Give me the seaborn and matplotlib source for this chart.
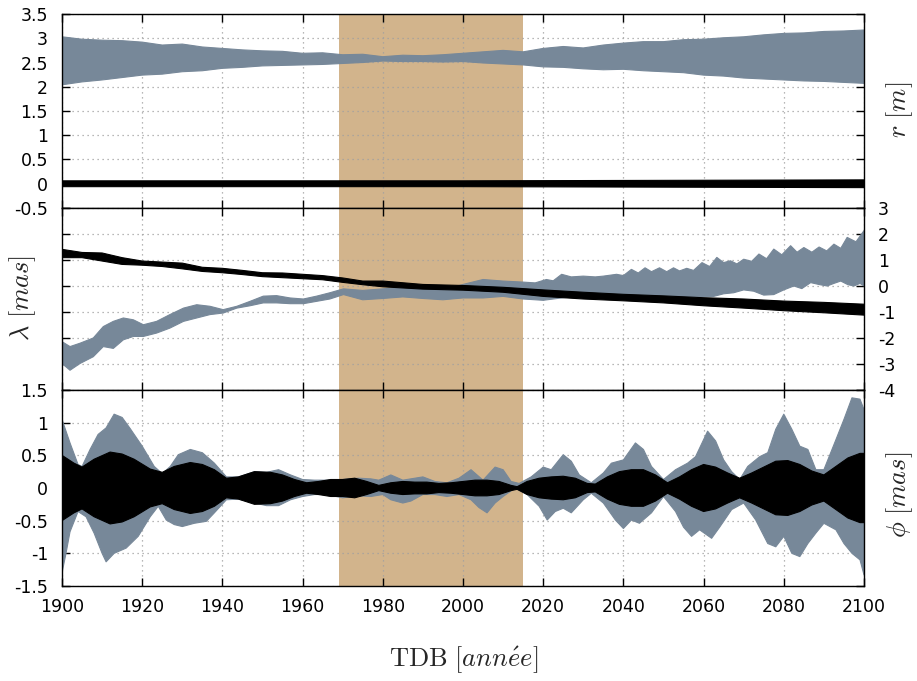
import numpy as np
import matplotlib
matplotlib.use("Agg")
import matplotlib.pyplot as plt
from matplotlib.ticker import FuncFormatter
import seaborn as sns

# shaded interval (years)
SPAN = (1969, 2015)

# --- r [m] ---------------------------------------------------------------
R_YEARS = [1900, 1905, 1910, 1915, 1920, 1925, 1930, 1935, 1940, 1945, 1950,
           1955, 1960, 1965, 1970, 1975, 1980, 1985, 1990, 1995, 2000, 2005,
           2010, 2015, 2020, 2025, 2030, 2035, 2040, 2045, 2050, 2055, 2060,
           2065, 2070, 2075, 2080, 2085, 2090, 2095, 2100]
R_GRAY_UP = [3.03, 2.98, 2.96, 2.95, 2.92, 2.86, 2.88, 2.82, 2.79, 2.76, 2.74,
             2.73, 2.69, 2.70, 2.66, 2.67, 2.62, 2.65, 2.64, 2.66, 2.69, 2.72,
             2.75, 2.72, 2.79, 2.83, 2.80, 2.86, 2.90, 2.93, 2.93, 2.97, 2.98,
             3.01, 3.03, 3.07, 3.10, 3.11, 3.14, 3.15, 3.17]
R_GRAY_LO = [2.04, 2.10, 2.14, 2.19, 2.24, 2.26, 2.31, 2.33, 2.38, 2.40, 2.43,
             2.44, 2.45, 2.46, 2.48, 2.50, 2.53, 2.52, 2.52, 2.51, 2.52, 2.49,
             2.47, 2.45, 2.41, 2.40, 2.37, 2.35, 2.36, 2.33, 2.31, 2.29, 2.24,
             2.22, 2.18, 2.16, 2.14, 2.12, 2.11, 2.09, 2.07]
R_BLACK_YEARS = [1900, 2000, 2100]
R_BLACK_UP = [0.06, 0.06, 0.08]
R_BLACK_LO = [-0.06, -0.06, -0.08]

# --- lambda [mas] --------------------------------------------------------
L_BLACK_YEARS = [1900, 1905, 1910, 1915, 1920, 1925, 1930, 1935, 1940, 1945,
                 1950, 1955, 1960, 1965, 1970, 1975, 1980, 1990, 2000, 2010,
                 2020, 2030, 2040, 2050, 2060, 2070, 2080, 2090, 2100]
L_BLACK_UP = [1.41, 1.29, 1.27, 1.09, 0.96, 0.92, 0.88, 0.72, 0.68, 0.60, 0.51,
              0.50, 0.45, 0.40, 0.31, 0.19, 0.19, 0.06, 0.02, -0.05, -0.15,
              -0.24, -0.32, -0.38, -0.45, -0.50, -0.58, -0.63, -0.70]
L_BLACK_LO = [1.09, 1.09, 0.96, 0.83, 0.80, 0.75, 0.66, 0.56, 0.51, 0.44, 0.36,
              0.32, 0.28, 0.24, 0.14, 0.05, -0.03, -0.12, -0.16, -0.24, -0.40,
              -0.50, -0.57, -0.65, -0.76, -0.85, -0.95, -1.03, -1.12]

L_GRAY_UP_YEARS = [1900, 1902, 1904.5, 1907.8, 1910.3, 1912.8, 1915.3, 1917.8,
                   1920.3, 1923.6, 1926.9, 1930.3, 1933.6, 1936.9, 1940.2,
                   1943.6, 1946.9, 1950.2, 1953.5, 1956.9, 1960.2, 1963.5,
                   1966.8, 1970.2, 1975, 1980, 1985, 1990, 1995, 2000, 2005,
                   2010, 2015, 2018, 2020.8, 2022.5, 2024.6, 2027, 2030, 2033,
                   2035, 2038.3, 2040, 2042, 2043.7, 2045.4, 2047, 2049,
                   2050.8, 2052.5, 2054, 2055.8, 2057.5, 2059.6, 2061.5,
                   2063.3, 2065, 2066.7, 2068.3, 2070, 2072, 2073.8, 2075.7,
                   2077.5, 2079.5, 2081.7, 2083.3, 2085, 2087, 2088.8, 2090.7,
                   2092.5, 2094.2, 2095.8, 2098, 2100]
L_GRAY_UP = [-2.14, -2.33, -2.20, -2.00, -1.56, -1.36, -1.23, -1.30, -1.49,
             -1.36, -1.10, -0.85, -0.72, -0.78, -0.91, -0.78, -0.59, -0.39,
             -0.37, -0.46, -0.50, -0.39, -0.26, -0.11, -0.17, -0.11, -0.05,
             -0.11, -0.15, 0.06, 0.25, 0.19, 0.15, 0.12, 0.25, 0.20, 0.45,
             0.35, 0.38, 0.35, 0.38, 0.45, 0.40, 0.64, 0.50, 0.70, 0.55, 0.70,
             0.55, 0.70, 0.58, 0.68, 0.60, 0.90, 0.75, 1.10, 0.90, 0.97, 0.85,
             1.03, 0.95, 1.23, 1.05, 1.42, 1.20, 1.55, 1.30, 1.48, 1.30, 1.50,
             1.35, 1.61, 1.45, 1.87, 1.70, 2.13]
L_GRAY_LO_YEARS = [1900, 1902, 1904.5, 1907.8, 1910.3, 1912.8, 1915.3, 1917.8,
                   1920.3, 1923.6, 1926.9, 1930.3, 1933.6, 1936.9, 1940.2,
                   1943.6, 1946.9, 1950.2, 1953.5, 1956.9, 1960.2, 1963.5,
                   1966.8, 1970.2, 1975, 1980, 1985, 1990, 1995, 2000, 2005,
                   2010, 2015, 2020, 2025, 2030, 2040, 2050, 2055, 2060,
                   2062.5, 2065, 2067.5, 2070, 2072.5, 2075, 2077.5, 2080,
                   2082.5, 2084.5, 2086.7, 2089, 2090.8, 2092.5, 2094.2, 2096,
                   2097.5, 2099, 2100]
L_GRAY_LO = [-2.98, -3.24, -2.98, -2.72, -2.33, -2.40, -2.07, -1.94, -1.94,
             -1.81, -1.62, -1.36, -1.23, -1.10, -1.04, -0.85, -0.76, -0.65,
             -0.65, -0.68, -0.68, -0.59, -0.50, -0.33, -0.53, -0.48, -0.42,
             -0.48, -0.53, -0.46, -0.46, -0.40, -0.50, -0.55, -0.45, -0.40,
             -0.45, -0.50, -0.45, -0.40, -0.40, -0.30, -0.26, -0.15, -0.20,
             -0.35, -0.33, -0.15, 0.00, -0.10, 0.13, 0.05, 0.00, 0.10, 0.19,
             0.05, 0.00, 0.10, 0.00]

# --- phi [mas] -----------------------------------------------------------
P_BLACK_YEARS = [1900, 1903, 1905, 1908, 1912, 1915, 1918, 1922, 1925, 1928,
                 1932, 1935, 1938, 1941, 1944, 1948, 1952, 1955, 1958, 1961,
                 1964, 1967, 1970, 1973, 1976, 1979, 1982, 1985, 1988, 1991,
                 1994, 1997, 2000, 2003, 2006, 2009, 2012, 2013.5, 2016, 2019,
                 2022, 2025, 2028, 2031, 2033, 2036, 2039, 2042, 2045, 2048,
                 2051, 2054, 2057, 2060, 2063, 2066, 2069, 2072, 2075, 2078,
                 2081, 2084, 2087, 2090, 2093, 2096, 2099, 2100]
P_BLACK_AMP = [0.50, 0.38, 0.32, 0.44, 0.55, 0.52, 0.44, 0.29, 0.24, 0.33,
               0.39, 0.36, 0.28, 0.15, 0.17, 0.25, 0.24, 0.20, 0.13, 0.08,
               0.10, 0.13, 0.13, 0.15, 0.10, 0.04, 0.08, 0.10, 0.09, 0.09,
               0.07, 0.08, 0.10, 0.12, 0.12, 0.10, 0.04, 0.02, 0.10, 0.15,
               0.17, 0.18, 0.15, 0.07, 0.06, 0.17, 0.25, 0.28, 0.28, 0.20,
               0.08, 0.17, 0.28, 0.36, 0.32, 0.23, 0.15, 0.23, 0.32, 0.41,
               0.42, 0.36, 0.26, 0.20, 0.33, 0.46, 0.53, 0.53]

P_GRAY_UP_YEARS = [1900, 1902, 1904, 1905, 1907, 1909, 1911, 1913, 1915, 1917,
                   1920, 1923, 1925, 1927, 1929, 1932, 1935, 1938, 1941, 1944,
                   1948, 1951, 1954, 1957, 1960, 1963, 1966, 1970, 1974, 1977,
                   1979, 1982, 1985, 1988, 1990, 1993, 1996, 1999, 2002, 2005,
                   2008, 2010, 2012, 2014, 2017, 2020, 2022, 2025, 2027, 2029,
                   2032, 2035, 2037, 2040, 2043, 2045, 2047, 2050, 2053, 2056,
                   2058, 2061, 2063, 2065, 2067, 2069, 2071, 2074, 2076, 2078,
                   2080, 2082, 2084, 2086, 2088, 2090, 2093, 2095, 2097, 2099,
                   2100]
P_GRAY_UP = [1.05, 0.69, 0.36, 0.33, 0.59, 0.82, 0.92, 1.13, 1.08, 0.91, 0.64,
             0.33, 0.22, 0.33, 0.51, 0.59, 0.54, 0.38, 0.17, 0.17, 0.25, 0.24,
             0.28, 0.20, 0.13, 0.12, 0.12, 0.13, 0.15, 0.14, 0.12, 0.20, 0.12,
             0.15, 0.17, 0.10, 0.08, 0.15, 0.28, 0.12, 0.32, 0.28, 0.10, 0.07,
             0.17, 0.32, 0.28, 0.51, 0.41, 0.20, 0.08, 0.23, 0.38, 0.43, 0.69,
             0.59, 0.33, 0.13, 0.28, 0.38, 0.48, 0.87, 0.72, 0.43, 0.25, 0.13,
             0.33, 0.48, 0.54, 0.90, 1.13, 0.90, 0.64, 0.59, 0.28, 0.28, 0.74,
             1.05, 1.38, 1.36, 1.20]
P_GRAY_LO_YEARS = [1900, 1901, 1902, 1904, 1906, 1908, 1910, 1911, 1913, 1916,
                   1919, 1922, 1924, 1926, 1928, 1930, 1933, 1936, 1938, 1941,
                   1944, 1948, 1951, 1954, 1957, 1960, 1963, 1966, 1970, 1974,
                   1977, 1980, 1982, 1985, 1987, 1990, 1993, 1996, 1999, 2002,
                   2004, 2006, 2008, 2010, 2013, 2016, 2019, 2021, 2023, 2025,
                   2027, 2030, 2032, 2035, 2038, 2040, 2042, 2044, 2047, 2050,
                   2053, 2055, 2057, 2059, 2062, 2064, 2067, 2070, 2073, 2076,
                   2078, 2080, 2082, 2084, 2086, 2088, 2090, 2093, 2095, 2097,
                   2099, 2100]
P_GRAY_LO = [-1.30, -1.00, -0.67, -0.36, -0.44, -0.69, -1.00, -1.13, -1.00,
             -0.92, -0.74, -0.44, -0.28, -0.49, -0.56, -0.59, -0.54, -0.51,
             -0.38, -0.18, -0.17, -0.23, -0.27, -0.27, -0.18, -0.13, -0.10,
             -0.10, -0.15, -0.12, -0.13, -0.10, -0.18, -0.23, -0.20, -0.10,
             -0.10, -0.13, -0.10, -0.18, -0.30, -0.38, -0.23, -0.13, 0.00,
             -0.10, -0.28, -0.49, -0.36, -0.31, -0.38, -0.18, -0.08, -0.23,
             -0.49, -0.62, -0.49, -0.54, -0.38, -0.13, -0.36, -0.60, -0.74,
             -0.64, -0.77, -0.60, -0.33, -0.23, -0.49, -0.85, -0.90, -0.74,
             -1.00, -1.05, -0.85, -0.69, -0.54, -0.64, -0.85, -1.00, -1.10,
             -1.33]

GRAY = "#778899"
BLACK = "#000000"
TAN = "#d2b48c"

sns.set_theme(style="white")
plt.rcParams["font.family"] = ["DejaVu Sans"]
plt.rcParams["mathtext.fontset"] = "cm"
plt.rcParams["axes.unicode_minus"] = False


def band(ax, x_up, up, x_lo, lo, color, z):
    xs = list(x_up) + list(x_lo)[::-1]
    ys = list(up) + list(lo)[::-1]
    ax.fill(xs, ys, color=color, lw=0, zorder=z)
    sns.lineplot(x=x_up, y=up, ax=ax, color=color, lw=0.8, zorder=z)
    sns.lineplot(x=x_lo, y=lo, ax=ax, color=color, lw=0.8, zorder=z)


def style(ax, ylim, yticks, labels_right=False, show_x=False):
    ax.axvspan(SPAN[0], SPAN[1], color=TAN, lw=0, zorder=0)
    ax.set_xlim(1900, 2100)
    ax.set_ylim(*ylim)
    ax.set_xticks(range(1900, 2101, 20))
    ax.set_yticks(yticks)
    ax.yaxis.set_major_formatter(FuncFormatter(lambda v, p: "%g" % v))
    ax.set_axisbelow("line")
    ax.grid(True, color="#a0a0a0", ls=(0, (1, 3)), lw=0.9)
    ax.tick_params(direction="in", length=6, width=1, color="black",
                   top=True, bottom=True, left=True, right=True,
                   labelsize=12.5, labelcolor="black")
    ax.tick_params(axis="y", labelleft=not labels_right,
                   labelright=labels_right, pad=10)
    ax.tick_params(axis="x", labelbottom=show_x, pad=9)
    for s in ax.spines.values():
        s.set_color("black")
        s.set_linewidth(1)
        s.set_zorder(5)
    ax.set_xlabel("")
    ax.set_ylabel("")


fig = plt.figure(figsize=(9.17, 6.81), dpi=100)
L, W = 62 / 917, (864 - 62) / 917
ax1 = fig.add_axes([L, 1 - 208 / 681, W, (208 - 14) / 681])
ax2 = fig.add_axes([L, 1 - 390 / 681, W, (390 - 208) / 681])
ax3 = fig.add_axes([L, 1 - 586 / 681, W, (586 - 390) / 681])

band(ax1, R_YEARS, R_GRAY_UP, R_YEARS, R_GRAY_LO, GRAY, 2)
band(ax1, R_BLACK_YEARS, R_BLACK_UP, R_BLACK_YEARS, R_BLACK_LO, BLACK, 3)
style(ax1, (-0.5, 3.5), np.arange(-0.5, 3.51, 0.5))

band(ax2, L_GRAY_UP_YEARS, L_GRAY_UP, L_GRAY_LO_YEARS, L_GRAY_LO, GRAY, 2)
band(ax2, L_BLACK_YEARS, L_BLACK_UP, L_BLACK_YEARS, L_BLACK_LO, BLACK, 3)
style(ax2, (-4, 3), range(-4, 4), labels_right=True)

band(ax3, P_GRAY_UP_YEARS, P_GRAY_UP, P_GRAY_LO_YEARS, P_GRAY_LO, GRAY, 2)
p_black_lo = [-a for a in P_BLACK_AMP]
band(ax3, P_BLACK_YEARS, P_BLACK_AMP, P_BLACK_YEARS, p_black_lo, BLACK, 3)
style(ax3, (-1.5, 1.5), np.arange(-1.5, 1.51, 0.5), show_x=True)

fig.text(900 / 917, 1 - 110 / 681, r"$r\ [m]$", rotation=90,
         ha="center", va="center", fontsize=19)
fig.text(23 / 917, 1 - 298 / 681, r"$\lambda\ [mas]$", rotation=90,
         ha="center", va="center", fontsize=19)
fig.text(900 / 917, 1 - 495 / 681, r"$\phi\ [mas]$", rotation=90,
         ha="center", va="center", fontsize=19)
fig.text(464 / 917, 1 - 660 / 681, r"$\mathrm{TDB}\ [ann\acute{e}e]$",
         ha="center", va="center", fontsize=19)

fig.savefig("out.png", dpi=100)
